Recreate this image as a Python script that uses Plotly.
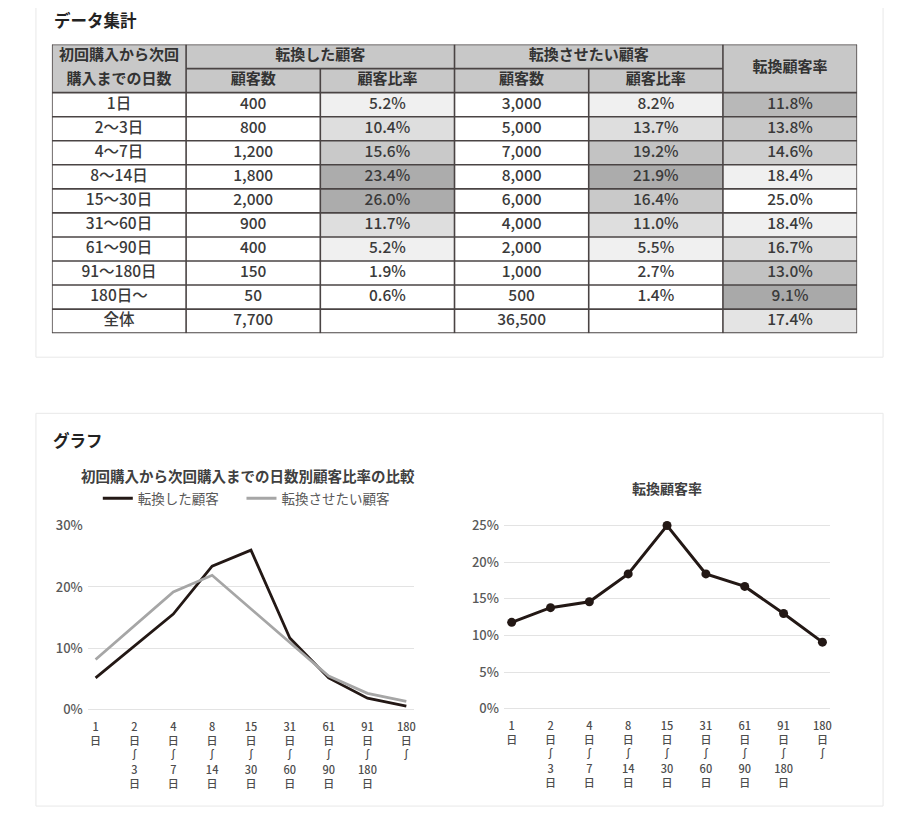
import plotly.graph_objects as go
import numpy as np

# ---------------- data ----------------
periods = ["1日", "2～3日", "4～7日", "8～14日", "15～30日", "31～60日", "61～90日", "91～180日", "180日～"]
WAVE = "∫"
axis_labels = ["1<br>日", f"2<br>日<br>{WAVE}<br>3<br>日", f"4<br>日<br>{WAVE}<br>7<br>日",
               f"8<br>日<br>{WAVE}<br>14<br>日", f"15<br>日<br>{WAVE}<br>30<br>日",
               f"31<br>日<br>{WAVE}<br>60<br>日", f"61<br>日<br>{WAVE}<br>90<br>日",
               f"91<br>日<br>{WAVE}<br>180<br>日", f"180<br>日<br>{WAVE}"]
converted_count = [400, 800, 1200, 1800, 2000, 900, 400, 150, 50]
converted_ratio = [5.2, 10.4, 15.6, 23.4, 26.0, 11.7, 5.2, 1.9, 0.6]
target_count = [3000, 5000, 7000, 8000, 6000, 4000, 2000, 1000, 500]
target_ratio = [8.2, 13.7, 19.2, 21.9, 16.4, 11.0, 5.5, 2.7, 1.4]
conversion_rate = [11.8, 13.8, 14.6, 18.4, 25.0, 18.4, 16.7, 13.0, 9.1]
total_label = "全体"
converted_total = 7700
target_total = 36500
overall_rate = 17.4

header_top = ["初回購入から次回", "転換した顧客", "転換させたい顧客", "転換顧客率"]
header_bottom = ["購入までの日数", "顧客数", "顧客比率", "顧客数", "顧客比率"]

series_names = ["転換した顧客", "転換させたい顧客"]
left_title = "初回購入から次回購入までの日数別顧客比率の比較"
right_title = "転換顧客率"

FONT = "Noto Sans CJK JP"
W, H = 910, 825
# observed placement of the rendered figure in the screenshot
X_OFF, Y_TOP, Y_SCALE = 8.0, 18.5, 0.975


def px_x(v):
    return (v - X_OFF) / W


def px_y(v):
    return (Y_TOP + Y_SCALE * H - v) / (Y_SCALE * H)


def grey(level):
    level = int(round(level))
    return f"rgb({level},{level},{level})"


def ratio_shade(v):
    bins = [4, 9, 15, 19, 21]
    levels = [255, 240, 222, 201, 195, 172]
    return grey(levels[int(np.digitize(v, bins))])


def rate_shade(v):
    return grey(np.interp(v, [9, 12, 14, 16.7, 18.4, 20, 25], [168, 185, 202, 220, 240, 255, 255]))


fig = go.Figure()

# ---------------- table (drawn on its own hidden axes) ----------------
n = len(periods)
rows_total = 2 + n + 1
shapes = []
shapes.append(dict(type="rect", xref="x3", yref="y3", x0=0, x1=6, y0=0, y1=2,
                   fillcolor="#c8c8c8", line=dict(width=0), layer="below"))
for i in range(n):
    r = 2 + i
    for c, col in ((2, converted_ratio), (4, target_ratio)):
        shapes.append(dict(type="rect", xref="x3", yref="y3", x0=c, x1=c + 1, y0=r, y1=r + 1,
                           fillcolor=ratio_shade(col[i]), line=dict(width=0), layer="below"))
    shapes.append(dict(type="rect", xref="x3", yref="y3", x0=5, x1=6, y0=r, y1=r + 1,
                       fillcolor=rate_shade(conversion_rate[i]), line=dict(width=0), layer="below"))
shapes.append(dict(type="rect", xref="x3", yref="y3", x0=5, x1=6, y0=rows_total - 1, y1=rows_total,
                   fillcolor=rate_shade(overall_rate), line=dict(width=0), layer="below"))

LC = "#4a4444"
LW = 1.6
for r in range(rows_total + 1):
    x0 = 1 if r == 1 else 0
    x1 = 5 if r == 1 else 6
    shapes.append(dict(type="line", xref="x3", yref="y3", x0=x0, x1=x1, y0=r, y1=r,
                       line=dict(color=LC, width=LW)))
for c in range(7):
    y0 = 1 if c in (2, 4) else 0
    shapes.append(dict(type="line", xref="x3", yref="y3", x0=c, x1=c, y0=y0, y1=rows_total,
                       line=dict(color=LC, width=LW)))

hx = [0.5, 2, 4, 5.5, 0.5, 1.5, 2.5, 3.5, 4.5]
hy = [0.5, 0.5, 0.5, 1.0, 1.5, 1.5, 1.5, 1.5, 1.5]
ht = [f"<b>{t}</b>" for t in header_top + header_bottom]
fig.add_trace(go.Scatter(x=hx, y=hy, text=ht, mode="text", xaxis="x3", yaxis="y3",
                         textfont=dict(family=FONT, size=15, color="#333333"),
                         hoverinfo="skip", showlegend=False))

bx, by, bt = [], [], []
for i in range(n):
    r = 2 + i + 0.5
    vals = [periods[i], f"{converted_count[i]:,}", f"{converted_ratio[i]:.1f}%",
            f"{target_count[i]:,}", f"{target_ratio[i]:.1f}%", f"{conversion_rate[i]:.1f}%"]
    for c, v in enumerate(vals):
        bx.append(c + 0.5)
        by.append(r)
        bt.append(v)
r = rows_total - 0.5
for c, v in ((0, total_label), (1, f"{converted_total:,}"), (3, f"{target_total:,}"), (5, f"{overall_rate:.1f}%")):
    bx.append(c + 0.5)
    by.append(r)
    bt.append(v)
fig.add_trace(go.Scatter(x=bx, y=by, text=bt, mode="text", xaxis="x3", yaxis="y3",
                         textfont=dict(family=FONT, size=15.5, color="#3a3a3a", weight=500),
                         hoverinfo="skip", showlegend=False))

# ---------------- charts ----------------
fig.add_trace(go.Scatter(x=periods, y=[v / 100 for v in converted_ratio], name=series_names[0],
                         mode="lines", line=dict(color="#231815", width=2.8), legend="legend",
                         xaxis="x", yaxis="y", hoverinfo="skip"))
fig.add_trace(go.Scatter(x=periods, y=[v / 100 for v in target_ratio], name=series_names[1],
                         mode="lines", line=dict(color="#a6a6a6", width=2.8), legend="legend2",
                         xaxis="x", yaxis="y", hoverinfo="skip"))
fig.add_trace(go.Scatter(x=periods, y=[v / 100 for v in conversion_rate], name=right_title,
                         mode="lines+markers", line=dict(color="#231815", width=3),
                         marker=dict(size=9, color="#231815"), cliponaxis=False,
                         xaxis="x2", yaxis="y2", hoverinfo="skip", showlegend=False))

tickfont = dict(family=FONT, size=11, color="#4d4d4d", weight=500)
ytickfont = dict(family=FONT, size=13, color="#595959", weight=500)
GRID = "#e3e3e3"

shapes.append(dict(type="rect", xref="paper", yref="paper", x0=px_x(36), x1=px_x(885), y0=px_y(357), y1=px_y(-2),
                   line=dict(color="#e8e8e8", width=1), fillcolor="rgba(0,0,0,0)", layer="below"))
shapes.append(dict(type="rect", xref="paper", yref="paper", x0=px_x(36), x1=px_x(885), y0=px_y(805), y1=px_y(413),
                   line=dict(color="#e8e8e8", width=1), fillcolor="rgba(0,0,0,0)", layer="below"))

annotations = [
    dict(text="<b>データ集計</b>", x=px_x(52), y=px_y(20), xref="paper", yref="paper",
         xanchor="left", yanchor="middle", showarrow=False, font=dict(family=FONT, size=16.5, color="#222222")),
    dict(text="<b>グラフ</b>", x=px_x(51), y=px_y(440), xref="paper", yref="paper",
         xanchor="left", yanchor="middle", showarrow=False, font=dict(family=FONT, size=16.5, color="#222222")),
    dict(text=f"<b>{left_title}</b>", x=px_x(249), y=px_y(475), xref="paper", yref="paper",
         xanchor="center", yanchor="middle", showarrow=False, font=dict(family=FONT, size=14.5, color="#404040")),
    dict(text=f"<b>{right_title}</b>", x=px_x(668), y=px_y(488), xref="paper", yref="paper",
         xanchor="center", yanchor="middle", showarrow=False, font=dict(family=FONT, size=14, color="#404040")),
]

legend_font = dict(family=FONT, size=13.5, color="#595959")

fig.update_layout(
    width=W, height=H, autosize=False,
    margin=dict(l=0, r=0, t=0, b=0),
    paper_bgcolor="white", plot_bgcolor="rgba(0,0,0,0)",
    hovermode=False,
    shapes=shapes,
    annotations=annotations,
    xaxis=dict(domain=[px_x(88), px_x(415)], range=[-0.2, 8.2], type="category",
               tickvals=periods, ticktext=axis_labels, tickfont=tickfont, ticklabelstandoff=9,
               showgrid=False, showline=False, zeroline=False, ticks="", anchor="y"),
    yaxis=dict(domain=[px_y(709), px_y(525)], range=[0, 0.3], tickvals=[0, 0.1, 0.2, 0.3],
               tickformat=".0%", tickfont=ytickfont, ticklabelstandoff=4,
               showgrid=True, gridcolor=GRID, gridwidth=1,
               zeroline=True, zerolinecolor=GRID, zerolinewidth=1, showline=False, ticks="", anchor="x"),
    xaxis2=dict(domain=[px_x(505), px_x(832)], range=[-0.2, 8.2], type="category",
                tickvals=periods, ticktext=axis_labels, tickfont=tickfont, ticklabelstandoff=9,
                showgrid=False, showline=False, zeroline=False, ticks="", anchor="y2"),
    yaxis2=dict(domain=[px_y(708), px_y(525 - 0.02 * 732)], range=[0, 0.27],
                tickvals=[0, 0.05, 0.1, 0.15, 0.2, 0.25],
                tickformat=".0%", tickfont=ytickfont, ticklabelstandoff=4,
                showgrid=True, gridcolor=GRID, gridwidth=1,
                zeroline=True, zerolinecolor=GRID, zerolinewidth=1, showline=False, ticks="", anchor="x2"),
    xaxis3=dict(domain=[px_x(52), px_x(859)], range=[0, 6], visible=False, fixedrange=True, anchor="y3"),
    yaxis3=dict(domain=[px_y(333), px_y(45)], range=[rows_total, 0], visible=False, fixedrange=True, anchor="x3"),
    legend=dict(orientation="h", x=px_x(98), xanchor="left", y=px_y(498), yanchor="middle",
                font=legend_font, bgcolor="rgba(0,0,0,0)", itemwidth=30),
    legend2=dict(orientation="h", x=px_x(242), xanchor="left", y=px_y(498), yanchor="middle",
                 font=legend_font, bgcolor="rgba(0,0,0,0)", itemwidth=30),
)

fig.write_html("out.html")
